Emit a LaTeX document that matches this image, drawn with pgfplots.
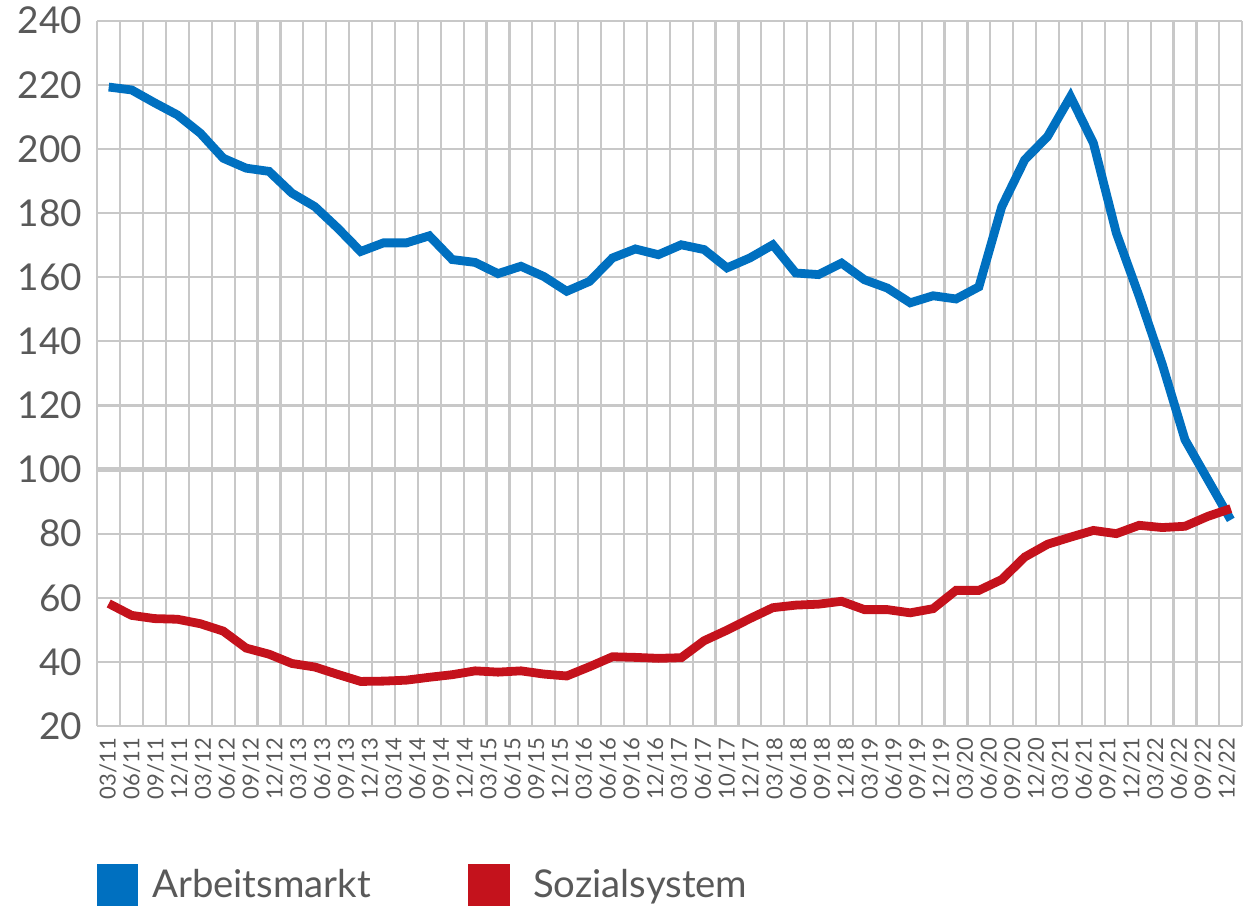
\documentclass[border=0pt]{standalone}
\usepackage{fontspec}
\setmainfont{Lato}
\usepackage{pgfplots}
\usepackage{pgfplotstable}
\pgfplotsset{compat=1.18}
\definecolor{blueA}{RGB}{0,112,192}
\definecolor{redS}{RGB}{196,18,28}
\definecolor{gridc}{RGB}{200,200,200}
\definecolor{labc}{RGB}{89,89,89}
\pgfplotstableread{
x y
0 219.3
1 218.4
2 214.4
3 210.6
4 204.9
5 197.1
6 194.0
7 193.0
8 186.2
9 182.0
10 175.3
11 168.0
12 170.7
13 170.7
14 172.9
15 165.5
16 164.6
17 161.1
18 163.4
19 160.2
20 155.6
21 158.7
22 166.0
23 168.8
24 167.0
25 170.1
26 168.6
27 162.9
28 166.0
29 170.1
30 161.3
31 160.8
32 164.4
33 159.2
34 156.6
35 152.0
36 154.2
37 153.2
38 157.0
39 182.0
40 196.6
41 203.9
42 216.3
43 201.8
44 173.8
45 154.0
46 133.0
47 109.3
48 96.8
49 84.3
}\arbeit
\pgfplotstableread{
x y
0 58.2
1 54.5
2 53.5
3 53.3
4 51.9
5 49.6
6 44.3
7 42.4
8 39.5
9 38.4
10 36.1
11 33.9
12 34.0
13 34.3
14 35.2
15 36.0
16 37.2
17 36.8
18 37.2
19 36.2
20 35.6
21 38.5
22 41.6
23 41.4
24 41.1
25 41.3
26 46.6
27 49.9
28 53.5
29 56.9
30 57.7
31 58.0
32 58.9
33 56.3
34 56.3
35 55.3
36 56.6
37 62.3
38 62.3
39 65.7
40 72.7
41 76.7
42 78.9
43 81.0
44 80.0
45 82.6
46 81.9
47 82.3
48 85.4
49 87.8
}\sozial
\begin{document}
\begin{tikzpicture}
\useasboundingbox (-97.3pt,-181pt) rectangle (1145.7pt,726pt);
\begin{axis}[
  scale only axis,
  width=1145pt, height=705.3pt,
  xmin=-0.5, xmax=49.5,
  ymin=20, ymax=240,
  ytick={20,40,...,240},
  xtick={-0.03,1.01,2.05,3.09,4.13,5.17,6.21,7.25,8.29,9.33,10.37,11.41,12.45,13.48,14.52,15.56,16.60,17.64,18.68,19.72,20.76,21.80,22.84,23.88,24.92,25.96,27.00,28.04,29.08,30.12,31.16,32.20,33.24,34.28,35.32,36.36,37.40,38.44,39.47,40.51,41.55,42.59,43.63,44.67,45.71,46.75,47.79,48.83},
  xticklabels={03/11,06/11,09/11,12/11,03/12,06/12,09/12,12/12,03/13,06/13,09/13,12/13,03/14,06/14,09/14,12/14,03/15,06/15,09/15,12/15,03/16,06/16,09/16,12/16,03/17,06/17,10/17,12/17,03/18,06/18,09/18,12/18,03/19,06/19,09/19,12/19,03/20,06/20,09/20,12/20,03/21,06/21,09/21,12/21,03/22,06/22,09/22,12/22},
  minor xtick={-0.5,0.5,...,49.5},
  xminorgrids=true, xmajorgrids=false, ymajorgrids=true,
  grid style={gridc, line width=2.2pt},
  minor grid style={gridc, line width=2.2pt},
  major tick length=0pt, minor tick length=0pt,
  axis line style={draw=none},
  tick style={draw=none},
  xticklabel style={rotate=90, anchor=east, inner sep=0pt, font=\fontsize{22}{24}\selectfont, text=labc},
  yticklabel style={anchor=east, inner sep=0pt, font=\fontsize{37}{40}\selectfont, text=labc, /pgf/number format/assume math mode=true},
  xticklabel shift=12pt,
  yticklabel shift=15pt,
  extra y ticks={100},
  extra y tick labels={},
  extra y tick style={grid style={gridc, line width=5.3pt}},
  clip=false,
]
\addplot[blueA, line width=8.8pt, line join=miter, line cap=butt] table[x=x,y=y]{\arbeit};
\addplot[redS, line width=8.8pt, line join=miter, line cap=butt] table[x=x,y=y]{\sozial};
\end{axis}
\fill[blueA] (-0.3pt,-138pt) rectangle (40.7pt,-180pt);
\node[anchor=base west, inner sep=0pt, font=\fontsize{38.3}{42}\selectfont, text=labc] at (54.7pt,-172pt) {Arbeitsmarkt};
\fill[redS] (370.7pt,-138pt) rectangle (412.7pt,-180pt);
\node[anchor=base west, inner sep=0pt, font=\fontsize{38.3}{42}\selectfont, text=labc] at (435.7pt,-172pt) {Sozialsystem};
\end{tikzpicture}
\end{document}
